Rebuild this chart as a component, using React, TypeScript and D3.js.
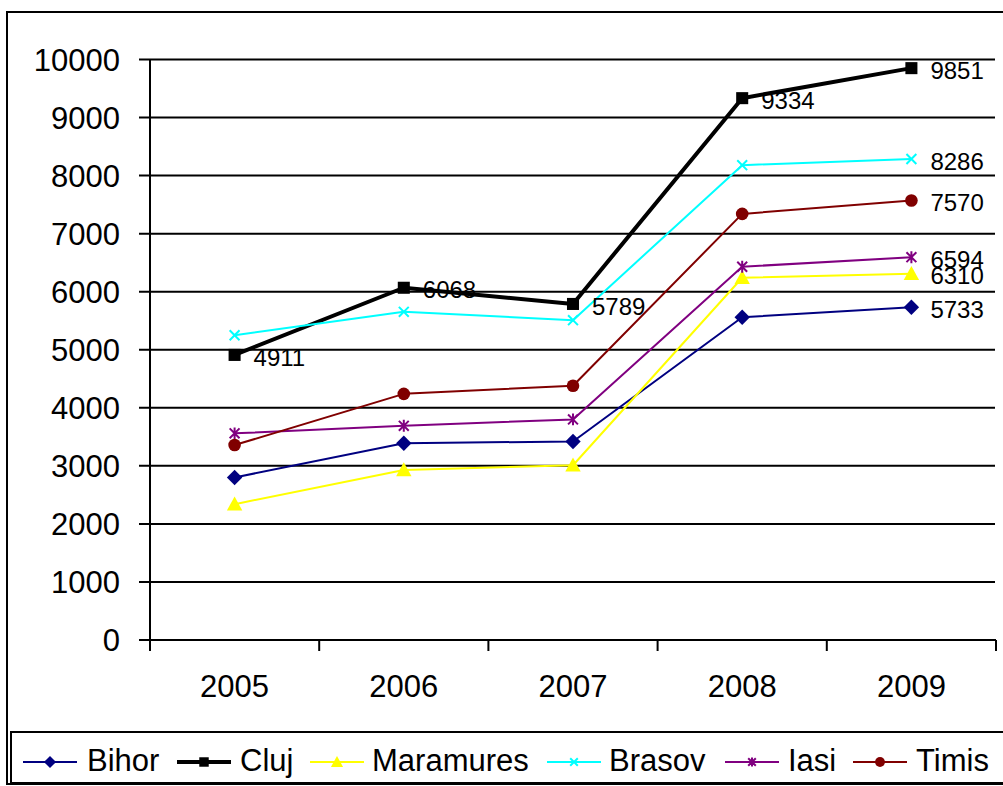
import React from "react";
import * as d3 from "d3";

const years = ["2005", "2006", "2007", "2008", "2009"];
const bihor = [2800, 3390, 3420, 5560, 5733];
const cluj = [4911, 6068, 5789, 9334, 9851];
const maramures = [2340, 2930, 3010, 6240, 6310];
const brasov = [5250, 5654, 5510, 8180, 8286];
const iasi = [3560, 3690, 3800, 6430, 6594];
const timis = [3358, 4240, 4380, 7340, 7570];
const yTicks = [0, 1000, 2000, 3000, 4000, 5000, 6000, 7000, 8000, 9000, 10000];

type Series = { name: string; values: number[]; color: string; width: number; marker: string; labels: "all" | "last" };
const series: Series[] = [
  { name: "Bihor", values: bihor, color: "#000080", width: 2, marker: "diamond", labels: "last" },
  { name: "Cluj", values: cluj, color: "#000000", width: 4, marker: "square", labels: "all" },
  { name: "Maramures", values: maramures, color: "#FFFF00", width: 2, marker: "triangle", labels: "last" },
  { name: "Brasov", values: brasov, color: "#00FFFF", width: 2, marker: "x", labels: "last" },
  { name: "Iasi", values: iasi, color: "#800080", width: 2, marker: "star", labels: "last" },
  { name: "Timis", values: timis, color: "#800000", width: 2, marker: "circle", labels: "last" },
];

const legendPos = [
  { lx: 23, tx: 87 },
  { lx: 177, tx: 240 },
  { lx: 310, tx: 372 },
  { lx: 547, tx: 609 },
  { lx: 725, tx: 788 },
  { lx: 853, tx: 916 },
];

function Marker({ type, x, y, color, s }: { type: string; x: number; y: number; color: string; s: number }) {
  switch (type) {
    case "diamond":
      return <path d={`M${x},${y - s * 0.55} L${x + s * 0.55},${y} L${x},${y + s * 0.55} L${x - s * 0.55},${y} Z`} fill={color} />;
    case "square":
      return <rect x={x - s * 0.43} y={y - s * 0.43} width={s * 0.86} height={s * 0.86} fill={color} />;
    case "triangle":
      return <path d={`M${x},${y - s * 0.55} L${x + s * 0.55},${y + s * 0.45} L${x - s * 0.55},${y + s * 0.45} Z`} fill={color} />;
    case "x": {
      const h = s * 0.38;
      return <path d={`M${x - h},${y - h} L${x + h},${y + h} M${x - h},${y + h} L${x + h},${y - h}`} stroke={color} strokeWidth={2} />;
    }
    case "star": {
      const h = s * 0.38;
      return (
        <path
          d={`M${x - h},${y - h} L${x + h},${y + h} M${x - h},${y + h} L${x + h},${y - h} M${x},${y - h * 1.2} L${x},${y + h * 1.2}`}
          stroke={color}
          strokeWidth={2}
        />
      );
    }
    case "circle":
      return <circle cx={x} cy={y} r={s * 0.45} fill={color} />;
  }
  return null;
}

export default function App() {
  const W = 1003, H = 786;
  const left = 150, right = 996, top = 59.5, bottom = 640;
  const x = d3.scaleBand<string>().domain(years).range([left, right]);
  const y = d3.scaleLinear().domain([0, 10000]).range([bottom, top]);
  const cx = (c: string) => (x(c) as number) + x.bandwidth() / 2;
  const font = "'Liberation Sans', Arial, sans-serif";
  const line = d3.line<number>().x((_, i) => cx(years[i])).y((v) => y(v));
  const boundaries = years.map((c) => x(c) as number).concat([right]);

  return (
    <svg width={W} height={H} style={{ position: "absolute", left: 0, top: 0, background: "#fff" }} fontFamily={font}>
      <rect x={0} y={0} width={W} height={H} fill="#fff" />
      <rect x={7} y={12} width={1010} height={772} fill="none" stroke="#000" strokeWidth={2} />
      {yTicks.map((t) => (
        <g key={t}>
          <line x1={left - 11} x2={t === 0 ? right : 995} y1={y(t)} y2={y(t)} stroke="#000" strokeWidth={2} />
          <text x={120} y={y(t)} dy="0.36em" textAnchor="end" fontSize={31}>{t}</text>
        </g>
      ))}
      <line x1={left} x2={left} y1={top} y2={bottom + 11} stroke="#000" strokeWidth={2} />
      {boundaries.map((b, i) => (
        <line key={i} x1={b} x2={b} y1={bottom} y2={bottom + 11} stroke="#000" strokeWidth={2} />
      ))}
      {years.map((c) => (
        <text key={c} x={cx(c)} y={697} textAnchor="middle" fontSize={31}>{c}</text>
      ))}
      {series.map((s) => (
        <g key={s.name}>
          <path d={line(s.values) || ""} fill="none" stroke={s.color} strokeWidth={s.width} strokeLinejoin="round" />
          {s.values.map((v, i) => (
            <Marker key={i} type={s.marker} x={cx(years[i])} y={y(v)} color={s.color} s={s.marker === "x" || s.marker === "star" ? 13 : 14} />
          ))}
        </g>
      ))}
      {series.map((s) =>
        s.values.map((v, i) =>
          s.labels === "all" || i === s.values.length - 1 ? (
            <text key={s.name + i} x={cx(years[i]) + 19} y={y(v) + 2} dy="0.36em" fontSize={24}>{v}</text>
          ) : null
        )
      )}
      <rect x={11} y={732} width={1010} height={51} fill="#fff" stroke="#000" strokeWidth={2} />
      {series.map((s, i) => {
        const p = legendPos[i];
        const ly = 762;
        return (
          <g key={s.name}>
            <line x1={p.lx} x2={p.lx + 54} y1={ly} y2={ly} stroke={s.color} strokeWidth={s.width === 4 ? 4 : 2} />
            <Marker type={s.marker} x={p.lx + 27} y={ly} color={s.color} s={s.marker === "x" || s.marker === "star" ? 10 : 11} />
            <text x={p.tx} y={771} fontSize={31}>{s.name}</text>
          </g>
        );
      })}
    </svg>
  );
}
